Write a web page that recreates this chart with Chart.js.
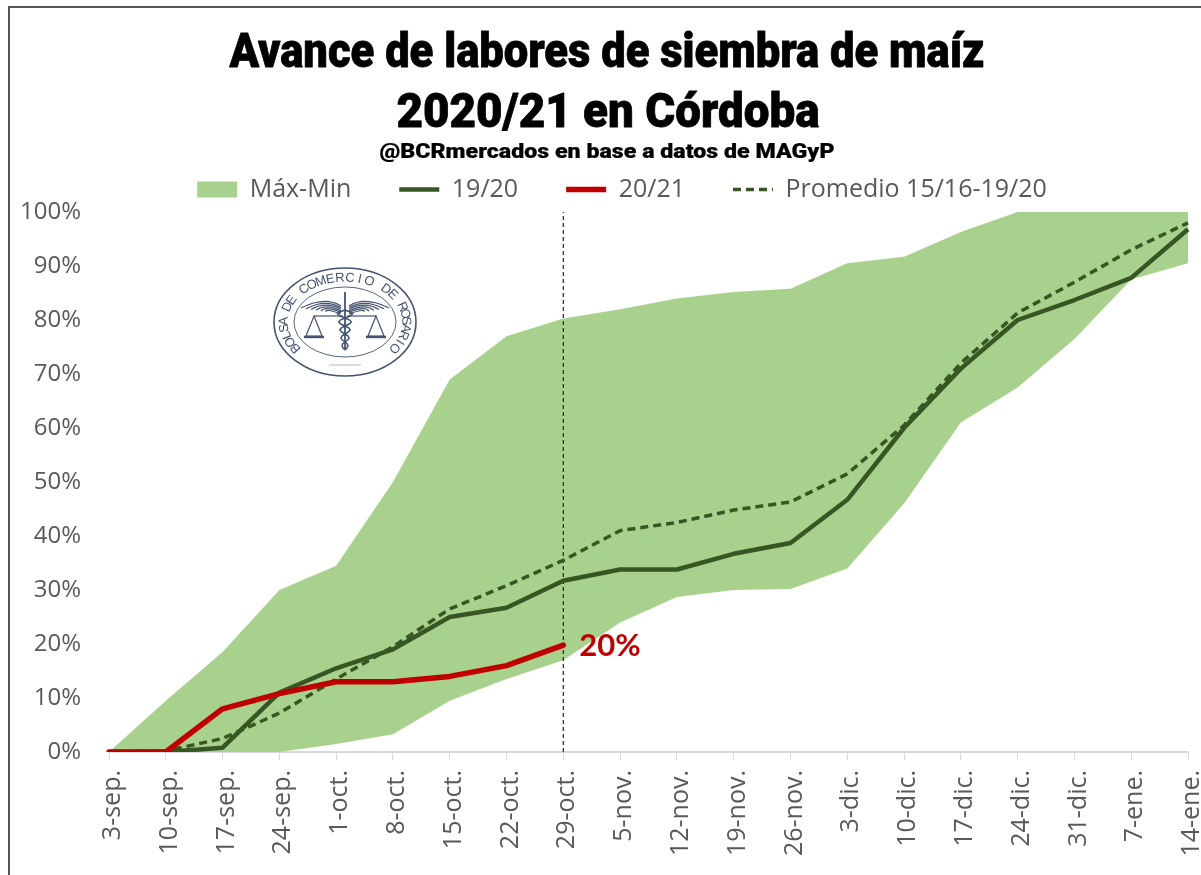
<!DOCTYPE html>
<html><head><meta charset="utf-8">
<style>
html,body{margin:0;padding:0;background:#fff;width:1201px;height:875px;overflow:hidden}
#frame{position:absolute;left:8px;top:6px;width:1193px;height:869px;border-left:2px solid #555;border-top:2px solid #555;box-sizing:border-box}
#wrap{position:absolute;left:0;top:0;width:1201px;height:875px}
</style>
<script src="https://cdn.jsdelivr.net/npm/chart.js@4/dist/chart.umd.js"></script>
</head><body>
<div id="wrap"><canvas id="c" width="1201" height="875"></canvas></div>
<div id="frame"></div>
<script>
const categories=['3-sep.','10-sep.','17-sep.','24-sep.','1-oct.','8-oct.','15-oct.','22-oct.','29-oct.','5-nov.','12-nov.','19-nov.','26-nov.','3-dic.','10-dic.','17-dic.','24-dic.','31-dic.','7-ene.','14-ene.'];
const maxValues=[0,9.5,18.5,30,34.5,50,69,77,80.3,82,84,85.2,85.8,90.5,91.7,96.3,100,100,100,100];
const minValues=[0,0,0,0,1.5,3.3,9.5,13.5,17,24,28.7,30,30.2,34,46,61,67.5,76.5,87.5,90.5];
const campaign1920=[0,0,0.8,11,15.5,19,25,26.7,31.7,33.8,33.8,36.7,38.7,46.7,60,71,80,83.7,87.8,96.8];
const campaign2021=[0,0,8,10.8,13,13,14,16,19.8];
const average=[0,0.2,2.5,7.2,13.5,19.5,26.5,30.8,35.5,41,42.5,44.8,46.3,51.5,60.5,72,81.3,87,93,98];
const markerDate='29-oct.';
const yTicksMax=100;
const titleLines=['Avance de labores de siembra de maíz','2020/21 en Córdoba'];
const subtitleText='@BCRmercados en base a datos de MAGyP';

const GREEN='#A9D18E',DARK='#375623',RED='#C00000',GRAY='#595959';
const BODY='"Open Sans", Lato, sans-serif';
const HEAVY='Roboto, "Liberation Sans", sans-serif';

function condensed(ctx,text,font,cx,baseline,width,stroke){
  ctx.save();ctx.font=font;ctx.textAlign='center';ctx.textBaseline='alphabetic';ctx.fillStyle='#000';ctx.strokeStyle='#000';ctx.lineWidth=stroke;ctx.lineJoin='round';
  const sx=width/ctx.measureText(text).width;
  ctx.translate(cx,baseline);ctx.scale(sx,1);
  ctx.fillText(text,0,0);
  if(stroke)ctx.strokeText(text,0,0);
  ctx.restore();
}
const titleBlock={id:'titleBlock',afterDraw(chart){
  const ctx=chart.ctx;
  condensed(ctx,titleLines[0],'900 48px '+HEAVY,607,67,755,0.8);
  condensed(ctx,titleLines[1],'900 48px '+HEAVY,608,127,423,0.8);
  condensed(ctx,subtitleText,'900 21px '+HEAVY,607,158,455,0.2);
}};
const endLabel={id:'endLabel',afterDatasetsDraw(chart){
  const idx=chart.data.datasets.findIndex(d=>d.label==='20/21');
  const pts=chart.getDatasetMeta(idx).data;
  const last=campaign2021.length-1, p=pts[last];
  const ctx=chart.ctx;ctx.save();
  ctx.font='bold 31px Lato, sans-serif';ctx.fillStyle=RED;ctx.textAlign='left';ctx.textBaseline='middle';
  ctx.fillText(Math.round(campaign2021[last])+'%',p.x+16,p.y+1);
  ctx.restore();
}};
const placeLegend={id:'placeLegend',
  beforeLayout(chart){
    const l=chart.legend;
    if(!l._zeroHeight){const f=l.fit;l.fit=function(){f.call(this);this.height=0;};l._zeroHeight=true;}
  },
  afterLayout(chart){
    const l=chart.legend,pad=chart.options.plugins.legend.labels.padding;
    const centre=622;
    l.left=centre-l.lineWidths[0]/2-pad;l.right=centre+l.lineWidths[0]/2+pad;
    l.top=188-pad-11;l.bottom=l.top+2*pad+40;
  }
};
const logo={id:'logo',afterDraw(chart){
  const ctx=chart.ctx,cx=345,cy=322,col='#44546F';
  ctx.save();ctx.translate(cx,cy);ctx.strokeStyle=col;ctx.fillStyle=col;
  ctx.lineWidth=1.6;ctx.beginPath();ctx.ellipse(0,0,71,54,0,0,Math.PI*2);ctx.stroke();
  ctx.lineWidth=0.9;ctx.beginPath();ctx.ellipse(0,0,51,35,0,0,Math.PI*2);ctx.stroke();
  const txt='BOLSA DE COMERCIO DE ROSARIO',n=txt.length;
  ctx.font='13px "Liberation Sans", sans-serif';ctx.textAlign='center';ctx.textBaseline='middle';
  const a0=Math.PI*0.80,a1=Math.PI*2.20;
  for(let i=0;i<n;i++){
    const a=a0+(a1-a0)*i/(n-1);
    const x=Math.cos(a)*61,y=Math.sin(a)*44;
    ctx.save();ctx.translate(x,y);ctx.rotate(Math.atan2(y*71*71,x*54*54)+Math.PI/2);ctx.fillText(txt[i],0,0);ctx.restore();
  }
  ctx.lineWidth=1.2;
  [-1,1].forEach(s=>{
    for(let k=0;k<6;k++){ctx.beginPath();ctx.moveTo(s*4,-16+k*1.6);ctx.quadraticCurveTo(s*20,-26+k*2.4,s*(44-k*5),-14+k*0.8);ctx.stroke();}
    ctx.beginPath();ctx.moveTo(s*31,-6);ctx.lineTo(s*23,14);ctx.lineTo(s*39,14);ctx.closePath();ctx.stroke();
    ctx.lineWidth=2.4;ctx.beginPath();ctx.moveTo(s*21,15);ctx.lineTo(s*41,15);ctx.stroke();ctx.lineWidth=1.2;
    ctx.beginPath();ctx.moveTo(s*2,-6);ctx.lineTo(s*31,-6);ctx.stroke();
  });
  ctx.lineWidth=1.8;ctx.beginPath();ctx.moveTo(0,-30);ctx.lineTo(0,28);ctx.stroke();
  ctx.lineWidth=1.5;
  [-1,1].forEach(s=>{ctx.beginPath();ctx.moveTo(0,-12);
    for(let t=0;t<=1.001;t+=0.05){ctx.lineTo(s*8*(1-t*0.7)*Math.sin(t*Math.PI*5),-12+t*40);}
    ctx.stroke();});
  ctx.globalAlpha=.5;ctx.lineWidth=.8;ctx.beginPath();ctx.moveTo(-16,43);ctx.lineTo(16,43);ctx.stroke();
  ctx.restore();
}};

new Chart(document.getElementById('c'),{
  type:'line',
  data:{labels:categories,datasets:[
    {label:'Min',data:minValues,borderWidth:0,pointRadius:0,fill:false,order:10},
    {label:'Máx-Min',data:maxValues,borderWidth:0,pointRadius:0,fill:'-1',backgroundColor:GREEN,borderColor:GREEN,order:9},
    {label:'19/20',data:campaign1920,borderColor:DARK,backgroundColor:DARK,borderWidth:4.5,pointRadius:0,fill:false,order:5,borderJoinStyle:'round'},
    {label:'marker',data:[{x:markerDate,y:0},{x:markerDate,y:yTicksMax}],borderColor:'#222',borderWidth:1.2,borderDash:[4,3],pointRadius:0,fill:false,order:6},
    {label:'20/21',data:campaign2021,borderColor:RED,backgroundColor:RED,borderWidth:5.5,pointRadius:0,fill:false,order:1,borderCapStyle:'round',borderJoinStyle:'round'},
    {label:'Promedio 15/16-19/20',data:average,borderColor:DARK,backgroundColor:DARK,borderWidth:3.5,borderDash:[8,5],pointRadius:0,fill:false,order:4}
  ]},
  options:{
    responsive:false,animation:false,
    layout:{padding:{left:0,right:13,top:212,bottom:0}},
    elements:{line:{tension:0}},
    plugins:{
      title:{display:false},
      subtitle:{display:false},
      legend:{display:true,position:'top',
        labels:{
          color:GRAY,font:{family:BODY,size:25},usePointStyle:true,pointStyleWidth:40,padding:48,boxHeight:16,
          generateLabels(chart){
            return chart.data.datasets.map((d,i)=>({d,i})).filter(o=>o.d.label!=='Min'&&o.d.label!=='marker').map(({d,i})=>({
              text:d.label,datasetIndex:i,fontColor:GRAY,
              fillStyle:d.label==='Máx-Min'?GREEN:d.borderColor,strokeStyle:d.label==='Máx-Min'?GREEN:d.borderColor,
              lineWidth:d.label==='Máx-Min'?0:d.borderWidth,lineDash:d.borderDash||[],
              pointStyle:d.label==='Máx-Min'?'rect':'line'
            }));
          }
        }
      },
      tooltip:{enabled:false}
    },
    scales:{
      x:{type:'category',offset:false,
        grid:{drawOnChartArea:false,drawTicks:true,tickLength:8,color:'#D9D9D9'},
        border:{color:'#D9D9D9',width:2},
        ticks:{autoSkip:false,minRotation:90,maxRotation:90,color:GRAY,font:{family:BODY,size:25},padding:10,labelOffset:4},
        afterFit(s){s.height=123;s.paddingLeft=0;s.paddingRight=0;}
      },
      y:{min:0,max:yTicksMax,
        grid:{display:false,drawTicks:false},border:{display:false},
        ticks:{stepSize:10,color:GRAY,font:{family:BODY,size:24},padding:28,callback:v=>v+'%'},
        afterFit(s){s.width=109;s.paddingTop=0;s.paddingBottom=0;}
      }
    }
  },
  plugins:[placeLegend,endLabel,logo,titleBlock]
});
</script>
</body></html>
